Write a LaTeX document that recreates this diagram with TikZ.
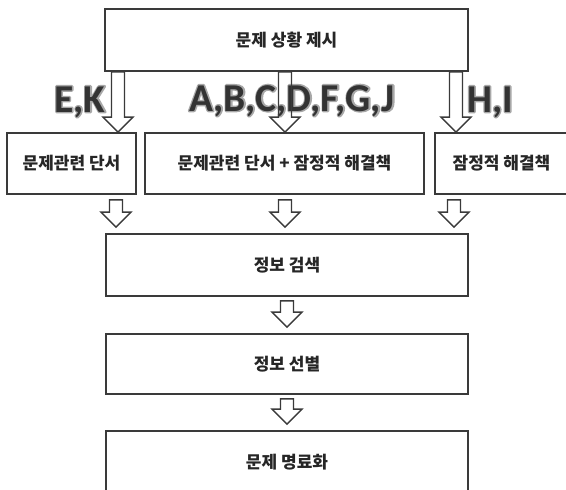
\documentclass[tikz,border=0pt]{standalone}
\usepackage{fontspec}
\newfontfamily\kr{Noto Sans CJK KR}
\newfontfamily\latinb{Carlito}
\usetikzlibrary{calc}
\definecolor{ln}{HTML}{3A3A3A}
\tikzset{
  box/.style={draw=ln, line width=1.8pt, fill=white, inner sep=0pt,
    font=\kr\fontsize{17}{20}\selectfont\bfseries, text=black!85},
  arr/.style={draw=ln, line width=1.4pt, line join=miter},
  lab/.style={inner sep=0pt, font=\latinb\bfseries\fontsize{39.5}{44}\selectfont, text=black!80},
}
\newcommand{\harrow}[2]{%
  \draw[arr] ($(#1)+(-6.5,0)$) -- ($(#1)+(6.5,0)$) -- ($(#2)+(6.5,-15)$)
    -- ($(#2)+(15,-15)$) -- (#2) -- ($(#2)+(-15,-15)$) -- ($(#2)+(-6.5,-15)$) -- cycle;}
\newcommand{\glow}[1]{\rlap{\special{pdf:literal direct 1 Tr 2.8 w 1 j 0.66 G}#1\special{pdf:literal direct 0 Tr}}#1}
\begin{document}
\begin{tikzpicture}[x=1pt,y=-1pt]
\useasboundingbox (0,0) rectangle (566,490);
% boxes
\node[box, minimum width=363pt, minimum height=62pt] (top) at (286.5,40) {문제 상황 제시};
\node[box, minimum width=129pt, minimum height=61pt] (b1) at (71.5,163.5) {문제관련 단서};
\node[box, minimum width=279pt, minimum height=61pt] (b2) at (284.5,163.5) {문제관련 단서 + 잠정적 해결책};
\node[box, minimum width=133pt, minimum height=61pt] (b3) at (501.5,163.5) {잠정적 해결책};
\node[box, minimum width=362pt, minimum height=62pt] (s1) at (287,265) {정보 검색};
\node[box, minimum width=362pt, minimum height=60pt] (s2) at (287,364) {정보 선별};
\node[box, minimum width=362pt, minimum height=62pt] (s3) at (287,462) {문제 명료화};
% labels
\node[lab, anchor=base west] (lEK) at (54,112) {\glow{E,K}};
\node[lab, anchor=base west] (lA) at (189,111) {\glow{A,B,C,D,F,G,J}};
\node[lab, anchor=base west] (lHI) at (467,112) {\glow{H,I}};
% upper arrows
\coordinate (u1a) at (118,0 |- top.south);
\coordinate (u1b) at (118,0 |- b1.north);
\coordinate (u2a) at (285,0 |- top.south);
\coordinate (u2b) at (285,0 |- b2.north);
\coordinate (u3a) at (456,0 |- top.south);
\coordinate (u3b) at (456,0 |- b3.north);
\harrow{u1a}{u1b}
\harrow{u2a}{u2b}
\harrow{u3a}{u3b}
% lower arrows
\coordinate (m1a) at ($(116,0 |- b1.south)+(0,5)$);
\coordinate (m1b) at ($(116,0 |- s1.north)+(0,-6)$);
\coordinate (m2a) at ($(285,0 |- b2.south)+(0,5)$);
\coordinate (m2b) at ($(285,0 |- s1.north)+(0,-6)$);
\coordinate (m3a) at ($(454,0 |- b3.south)+(0,5)$);
\coordinate (m3b) at ($(454,0 |- s1.north)+(0,-6)$);
\harrow{m1a}{m1b}
\harrow{m2a}{m2b}
\harrow{m3a}{m3b}
\coordinate (n1a) at ($(s1.south)+(0,4)$);
\coordinate (n1b) at ($(s2.north)+(0,-6)$);
\coordinate (n2a) at ($(s2.south)+(0,4)$);
\coordinate (n2b) at ($(s3.north)+(0,-6)$);
\harrow{n1a}{n1b}
\harrow{n2a}{n2b}
\end{tikzpicture}
\end{document}
